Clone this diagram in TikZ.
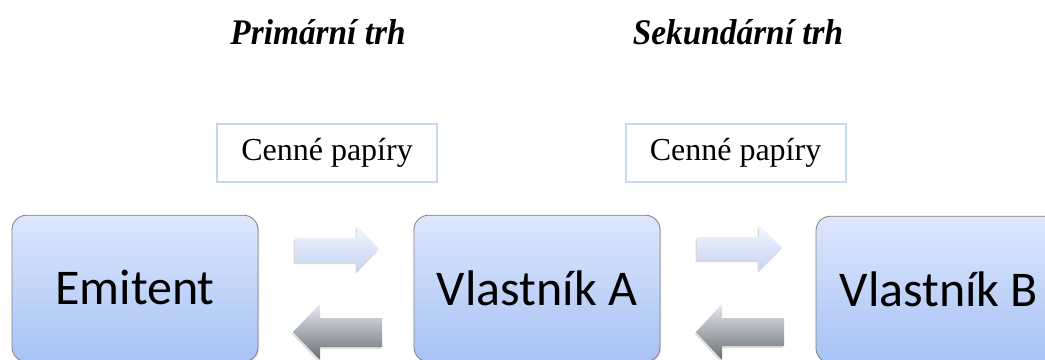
\documentclass[tikz,border=0pt]{standalone}
\usepackage{fontspec}
\setmainfont{Liberation Serif}
\newfontfamily\boxfont{Carlito}
\usetikzlibrary{shadows}
\definecolor{topblue}{HTML}{DDE7FC}
\definecolor{botblue}{HTML}{A7C2F5}
\definecolor{edgegray}{HTML}{7F7F7F}
\definecolor{papblue}{HTML}{C6D9F1}
\definecolor{rtop}{HTML}{F2F6FE}
\definecolor{rbot}{HTML}{C4D4F5}
\definecolor{ltop}{HTML}{E6EAF0}
\definecolor{lbot}{HTML}{696E75}
\tikzset{
  party/.style={draw=edgegray, line width=0.6pt, rounded corners=11pt,
    top color=topblue, bottom color=botblue,
    minimum width=184.5pt, minimum height=110pt, inner sep=0pt,
    font=\boxfont\fontsize{37.5}{42}\selectfont,
    drop shadow={opacity=0.2, shadow xshift=1pt, shadow yshift=-1pt}},
  paper/.style={draw=papblue, line width=1.5pt, fill=white,
    minimum width=165pt, minimum height=43.5pt, inner sep=0pt,
    font=\fontsize{24}{28}\selectfont},
  market/.style={font=\bfseries\itshape\fontsize{25}{30}\selectfont, yscale=1.08},
  fwdarrow/.style={top color=rtop, bottom color=rbot,
    drop shadow={opacity=0.3, shadow xshift=-1pt, shadow yshift=-1.5pt}},
  backarrow/.style={top color=ltop, bottom color=lbot,
    drop shadow={opacity=0.25, shadow xshift=-1pt, shadow yshift=-1.5pt}}
}
\begin{document}
\begin{tikzpicture}[x=0.75pt,y=-0.75pt]
\useasboundingbox (0,0) rectangle (1045,360);
\begin{scope}
\clip (0,0) rectangle (1045,360);
% titles
\node[market] (prim) at (318,32) {Primární trh};
\node[market] (sek) at (738,32) {Sekundární trh};
% securities labels
\node[paper] (cp1) at (327,153) {Cenné papíry};
\node[paper] (cp2) at (735.5,153) {Cenné papíry};
% parties
\node[party] (emit) at (135,288.5) {\raisebox{1.5pt}{Emitent}};
\node[party] (vla) at (537,288.5) {Vlastník A};
\node[party] (vlb) at (939,289.5) {Vlastník B};
% block arrows, primary market
\path[fwdarrow] (295,238) -- (357,238) -- (357,226) -- (379,249) -- (357,272) -- (357,262) -- (295,262) -- cycle;
\path[backarrow] (382,318) -- (320,318) -- (320,304) -- (293,332) -- (320,360) -- (320,347) -- (382,347) -- cycle;
% block arrows, secondary market
\path[fwdarrow] (697,237) -- (759,237) -- (759,225) -- (782,248) -- (759,271) -- (759,260) -- (697,260) -- cycle;
\path[backarrow] (784,318) -- (722,318) -- (722,304) -- (696,332) -- (722,360) -- (722,346) -- (784,346) -- cycle;
\end{scope}
\end{tikzpicture}
\end{document}
